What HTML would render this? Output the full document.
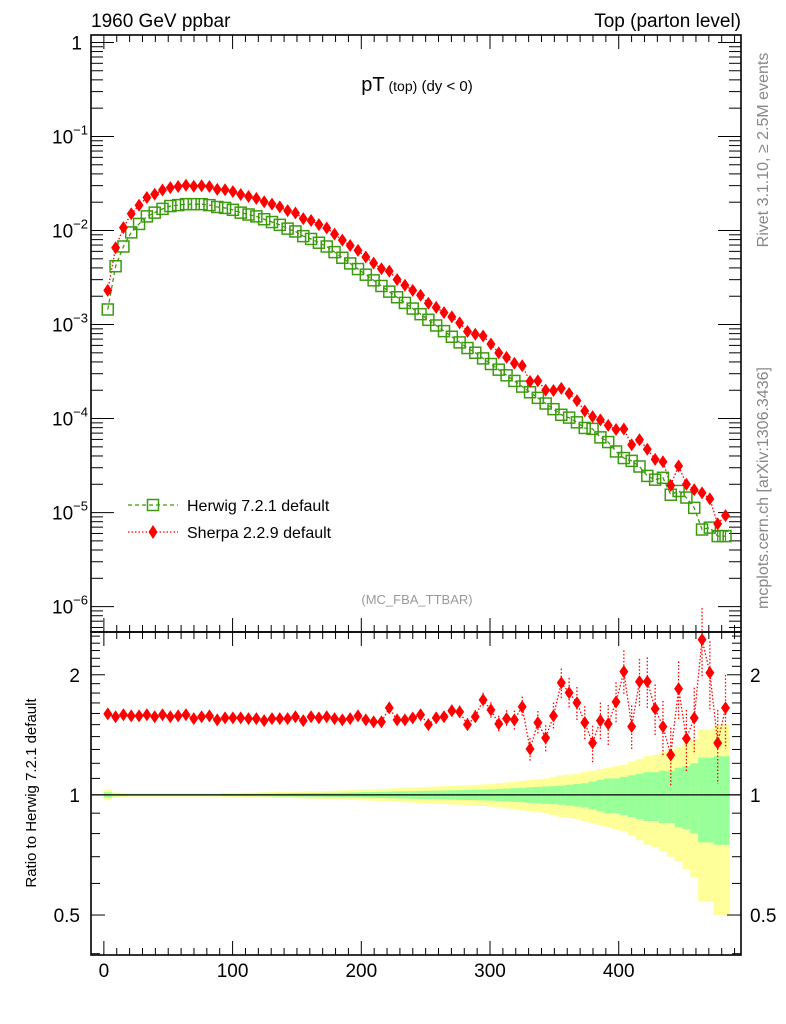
<!DOCTYPE html>
<html><head><meta charset="utf-8"><style>
html,body{margin:0;padding:0;background:#fff;}
svg{display:block;font-family:"Liberation Sans",Arial,sans-serif;}
</style></head><body>
<svg id="chart" width="786" height="1024" viewBox="0 0 786 1024" xmlns="http://www.w3.org/2000/svg">
<rect x="0" y="0" width="786" height="1024" fill="#fff"/>
<g id="ratioBands"></g>
<g id="grid"></g>
<g id="series"></g>
<rect x="91" y="35" width="650" height="597" fill="none" stroke="#000" stroke-width="1.6"/>
<rect x="91" y="632" width="650" height="323" fill="none" stroke="#000" stroke-width="1.6"/>
<text x="91" y="27" font-size="19">1960 GeV ppbar</text>
<text x="741" y="27" font-size="19" text-anchor="end">Top (parton level)</text>
<text x="417" y="91" text-anchor="middle"><tspan font-size="20">pT</tspan><tspan font-size="14"> (top)</tspan><tspan font-size="15"> (dy &lt; 0)</tspan></text>
<text x="417" y="604" text-anchor="middle" font-size="13" fill="#999">(MC_FBA_TTBAR)</text>
<text transform="translate(768,150) rotate(-90)" text-anchor="middle" font-size="16" fill="#888">Rivet 3.1.10, ≥ 2.5M events</text>
<text transform="translate(768,488) rotate(-90)" text-anchor="middle" font-size="16" fill="#888">mcplots.cern.ch [arXiv:1306.3436]</text>
<text transform="translate(36,793) rotate(-90)" text-anchor="middle" font-size="15">Ratio to Herwig 7.2.1 default</text>
<g>
 <g>
  <line x1="128" y1="505" x2="178" y2="505" stroke="#3c9a0e" stroke-width="1.3" stroke-dasharray="4,3"/>
  <rect x="147.5" y="499.5" width="11" height="11" fill="none" stroke="#3c9a0e" stroke-width="1.5"/>
  <text x="187" y="511" font-size="16">Herwig 7.2.1 default</text>
 </g>
 <g>
  <line x1="128" y1="532" x2="178" y2="532" stroke="#f00" stroke-width="1.3" stroke-dasharray="1.5,2"/>
  <polygon points="153,525 157.5,532 153,539 148.5,532" fill="#f00"/>
  <text x="187" y="538" font-size="16">Sherpa 2.2.9 default</text>
 </g>
</g>
</svg>
<script>
// log10 of dσ/dpT per bin (Herwig 7.2.1 default)
const herwigLog10 = [-2.84,-2.38,-2.17,-2.02,-1.93,-1.85,-1.81,-1.77,-1.74,-1.73,
-1.72,-1.72,-1.72,-1.73,-1.75,-1.76,-1.78,-1.81,-1.83,-1.85,
-1.88,-1.91,-1.94,-1.98,-2.01,-2.06,-2.09,-2.13,-2.17,-2.23,
-2.29,-2.35,-2.41,-2.47,-2.53,-2.59,-2.65,-2.71,-2.77,-2.83,
-2.89,-2.95,-3.01,-3.07,-3.13,-3.19,-3.25,-3.30,-3.36,-3.42,
-3.48,-3.54,-3.60,-3.66,-3.72,-3.78,-3.84,-3.90,-3.96,-3.99,
-4.04,-4.10,-4.11,-4.20,-4.25,-4.35,-4.42,-4.45,-4.51,-4.61,
-4.65,-4.63,-4.81,-4.77,-4.84,-4.95,-5.18,-5.16,-5.25,-5.25];
// log10 of dσ/dpT per bin (Sherpa 2.2.9 default)
const sherpaLog10 = [-2.637,-2.184,-1.969,-1.822,-1.732,-1.649,-1.614,-1.569,-1.544,-1.532,
-1.519,-1.529,-1.524,-1.532,-1.562,-1.567,-1.587,-1.617,-1.639,-1.659,
-1.694,-1.719,-1.749,-1.789,-1.814,-1.874,-1.894,-1.937,-1.974,-2.039,
-2.102,-2.159,-2.212,-2.282,-2.347,-2.407,-2.432,-2.522,-2.582,-2.637,
-2.689,-2.774,-2.817,-2.874,-2.919,-2.982,-3.074,-3.104,-3.122,-3.207,
-3.302,-3.349,-3.412,-3.439,-3.605,-3.599,-3.697,-3.702,-3.679,-3.734,
-3.809,-3.919,-3.980,-4.014,-4.072,-4.117,-4.111,-4.279,-4.226,-4.326,
-4.434,-4.459,-4.710,-4.504,-4.699,-4.757,-4.791,-4.854,-5.120,-5.032];
// relative total uncertainty of Herwig (yellow band)
const herwigTotErr = [0.03,0.015,0.012,0.01,0.01,0.01,0.01,0.01,0.01,0.01,
0.01,0.01,0.01,0.01,0.01,0.012,0.012,0.013,0.013,0.014,
0.015,0.016,0.017,0.018,0.019,0.02,0.021,0.022,0.023,0.025,
0.026,0.028,0.03,0.031,0.033,0.035,0.037,0.04,0.042,0.044,
0.046,0.048,0.05,0.052,0.054,0.056,0.058,0.06,0.062,0.066,
0.07,0.075,0.08,0.085,0.09,0.095,0.1,0.11,0.12,0.125,
0.13,0.14,0.15,0.16,0.17,0.18,0.19,0.21,0.23,0.25,
0.26,0.28,0.3,0.32,0.35,0.38,0.46,0.46,0.5,0.5];
// relative statistical uncertainty of Herwig (green band)
const herwigStatErr = [0.015,0.008,0.006,0.005,0.005,0.005,0.005,0.005,0.005,0.005,
0.005,0.005,0.005,0.005,0.005,0.006,0.006,0.006,0.007,0.007,
0.008,0.008,0.009,0.009,0.01,0.01,0.011,0.011,0.012,0.012,
0.013,0.014,0.015,0.016,0.017,0.018,0.019,0.02,0.021,0.022,
0.023,0.024,0.025,0.026,0.027,0.028,0.029,0.03,0.031,0.033,
0.035,0.037,0.04,0.042,0.045,0.047,0.05,0.052,0.055,0.06,
0.065,0.07,0.08,0.09,0.1,0.1,0.11,0.12,0.13,0.14,
0.14,0.15,0.15,0.17,0.18,0.2,0.24,0.24,0.25,0.25];
// relative uncertainty of Sherpa
const sherpaErr = [0.02,0.01,0.008,0.007,0.007,0.007,0.007,0.007,0.007,0.007,
0.007,0.007,0.007,0.007,0.008,0.008,0.008,0.009,0.009,0.01,
0.01,0.011,0.011,0.012,0.012,0.013,0.014,0.014,0.015,0.016,
0.017,0.018,0.019,0.02,0.021,0.022,0.024,0.025,0.027,0.028,
0.03,0.031,0.033,0.034,0.036,0.037,0.039,0.04,0.042,0.045,
0.048,0.05,0.055,0.06,0.065,0.07,0.075,0.08,0.085,0.09,
0.095,0.1,0.105,0.11,0.115,0.12,0.13,0.13,0.14,0.15,
0.15,0.16,0.17,0.17,0.18,0.19,0.2,0.2,0.21,0.21];
const binWidth = 6.075;
const xTickLabels = [0,100,200,300,400];
const yTickExps = [0,-1,-2,-3,-4,-5,-6];
const ratioTickLabels = [0.5,1,2];

const NS="http://www.w3.org/2000/svg";
const X0=91,X1=741,xMin=-10,xMax=495;
const MT=35,MB=632,lMax=Math.log10(1.2),lMin=-6.27;
const RT=632,RB=955,rMax=Math.log2(2.56),rMin=Math.log2(0.397);
const sx=v=>X0+(v-xMin)/(xMax-xMin)*(X1-X0);
const sy=v=>MT+(lMax-Math.log10(v))/(lMax-lMin)*(MB-MT);
const sr=v=>RT+(rMax-Math.log2(v))/(rMax-rMin)*(RB-RT);
function mk(tag,attrs,parent){const e=document.createElementNS(NS,tag);for(const k in attrs)e.setAttribute(k,attrs[k]);parent.appendChild(e);return e;}
const grid=document.getElementById('grid'),ser=document.getElementById('series'),bands=document.getElementById('ratioBands');
const n=herwigLog10.length;
const herwig=herwigLog10.map(v=>Math.pow(10,v));
const sherpa=sherpaLog10.map(v=>Math.pow(10,v));
const ratio=sherpa.map((v,i)=>v/herwig[i]);
const centers=herwig.map((v,i)=>(i+0.5)*binWidth);

for(let i=0;i<n;i++){
 const xa=sx(i*binWidth),xb=sx((i+1)*binWidth);
 const y1=mk('rect',{x:xa,y:sr(1+herwigTotErr[i]),width:xb-xa+0.3,height:sr(1-herwigTotErr[i])-sr(1+herwigTotErr[i]),fill:'#ffff99'},bands);
 
 
 const g1=mk('rect',{x:xa,y:sr(1+herwigStatErr[i]),width:xb-xa+0.3,height:sr(1-herwigStatErr[i])-sr(1+herwigStatErr[i]),fill:'#99ff99'},bands);
 
 
}
const one=mk('line',{x1:X0,x2:X1,y1:sr(1),y2:sr(1),stroke:'#000','stroke-width':1.3},bands);



for(let v=0;v<=490;v+=10){
 const major=v%100===0, x=sx(v);
 [[MT,1],[MB,-1],[RT,1],[RB,-1]].forEach(([y,d])=>{
  mk('line',{x1:x,x2:x,y1:y,y2:y+d*(major?14:7),stroke:'#000','stroke-width':1},grid);
 });
}
xTickLabels.forEach(v=>{
 const t=mk('text',{x:sx(v),y:977,'font-size':19,'text-anchor':'middle'},grid);
 t.textContent=v;
 
 
});
for(let e=-7;e<=0;e++){
 for(let m=1;m<10;m++){
  const v=m*Math.pow(10,e); if(v>1.2||v<Math.pow(10,lMin))continue;
  const y=sy(v),L=m===1?23:12;
  mk('line',{x1:X0,x2:X0+L,y1:y,y2:y,stroke:'#000','stroke-width':1},grid);
  mk('line',{x1:X1,x2:X1-L,y1:y,y2:y,stroke:'#000','stroke-width':1},grid);
 }
}
yTickExps.forEach(e=>{
 const t=mk('text',{x:e===0?82:84,y:sy(Math.pow(10,e))+7,'font-size':19,'text-anchor':'end'},grid);
 
 
 if(e===0){t.textContent='1';}
 else{t.textContent='10';const s=mk('tspan',{dy:-9,'font-size':13},t);s.textContent='\u2212'+(-e);t.setAttribute('x',70);t.setAttribute('text-anchor','middle');}
});
const rt=[0.4,0.5,0.6,0.7,0.8,0.9,1,1.1,1.2,1.3,1.4,1.5,1.6,1.7,1.8,1.9,2,2.1,2.2,2.3,2.4,2.5];
rt.forEach(v=>{
 if(v<0.397||v>2.56)return;
 const y=sr(v),L=ratioTickLabels.some(u=>Math.abs(u-v)<1e-9)?14:9;
 mk('line',{x1:X0,x2:X0+L,y1:y,y2:y,stroke:'#000','stroke-width':1},grid);
 mk('line',{x1:X1,x2:X1-L,y1:y,y2:y,stroke:'#000','stroke-width':1},grid);
});
ratioTickLabels.forEach(v=>{
 const a=mk('text',{x:80,y:sr(v)+7,'font-size':19,'text-anchor':'end'},grid);a.textContent=v;
 
 
 const b=mk('text',{x:750,y:sr(v)+7,'font-size':19},grid);b.textContent=v;
 
 
});

const hp=centers.map((c,i)=>sx(c)+','+sy(herwig[i])).join(' ');
const hl=mk('polyline',{points:hp,fill:'none',stroke:'#3c9a0e','stroke-width':1.3,'stroke-dasharray':'4,3'},ser);


const sp=centers.map((c,i)=>sx(c)+','+sy(sherpa[i])).join(' ');
const sl=mk('polyline',{points:sp,fill:'none',stroke:'#f00','stroke-width':1.3,'stroke-dasharray':'1.5,2'},ser);


const rp=centers.map((c,i)=>sx(c)+','+sr(ratio[i])).join(' ');
const rl=mk('polyline',{points:rp,fill:'none',stroke:'#f00','stroke-width':1.3,'stroke-dasharray':'1.5,2'},ser);


for(let i=0;i<n;i++){
 const x=sx(centers[i]);
 const e=herwigStatErr[i]*0.5;
 const yt=sy(herwig[i]*(1+e)),yb=sy(herwig[i]*(1-e));
 if(yb-yt>10){
  const eb=mk('path',{d:`M${x},${yt}V${yb}M${x-3},${yt}H${x+3}M${x-3},${yb}H${x+3}`,stroke:'#3c9a0e','stroke-width':1.2,fill:'none'},ser);
  
  
 }
 const sq=mk('rect',{x:x-5.5,y:sy(herwig[i])-5.5,width:11,height:11,fill:'none',stroke:'#3c9a0e','stroke-width':1.5},ser);
 
 
}
for(let i=0;i<n;i++){
 const x=sx(centers[i]),y=sy(sherpa[i]);
 const e=sherpaErr[i];
 const ry=sr(ratio[i]),rt2=sr(ratio[i]*(1+e)),rb=sr(ratio[i]*(1-e));
 if(rb-rt2>12){
  const eb=mk('line',{x1:x,x2:x,y1:rt2,y2:rb,stroke:'#f00','stroke-width':1.3,'stroke-dasharray':'1.5,2'},ser);
  
  
 }
 const d=mk('polygon',{points:`${x},${y-6.5} ${x+4.5},${y} ${x},${y+6.5} ${x-4.5},${y}`,fill:'#f00'},ser);
 
 
 const r=mk('polygon',{points:`${x},${ry-6.5} ${x+4.5},${ry} ${x},${ry+6.5} ${x-4.5},${ry}`,fill:'#f00'},ser);
 
 
}
</script>
</body></html>
